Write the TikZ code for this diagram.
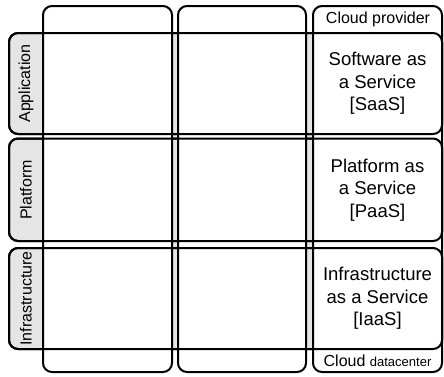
\documentclass[tikz,border=0pt]{standalone}
\usepackage{fontspec}
\setmainfont{Liberation Sans}
\begin{document}
\begin{tikzpicture}[x=1pt,y=-1pt,
  frame/.style={line width=2pt, rounded corners=9pt},
  tabfill/.style={fill=gray!20},
  bigtext/.style={align=center, font=\fontsize{18.5}{22.5}\selectfont, inner sep=0pt},
  smalltext/.style={font=\fontsize{16}{18}\selectfont, inner sep=0pt},
  tablabel/.style={rotate=90, font=\fontsize{16}{18}\selectfont, inner sep=0pt}]
  \useasboundingbox (0,0) rectangle (444,376);
  % shading behind the grid between the columns
  \fill[gray!20] (43,33) rectangle (442,349);
  % layer bands, filled (the tab part stays grey)
  \foreach \t/\b in {33/134, 138.5/241, 248/349}
    \draw[frame, tabfill] (9,\t) rectangle (442,\b);
  % the three columns
  \foreach \l/\r in {43/172, 178/306, 313/442}
    \draw[frame, fill=white] (\l,6) rectangle (\r,372);
  % band outlines again on top of the columns
  \foreach \t/\b in {33/134, 138.5/241, 248/349}
    \draw[frame] (9,\t) rectangle (442,\b);
  % band tabs
  \node[tablabel] (app) at (26,83.5) {Application};
  \node[tablabel] (plat) at (26,190) {Platform};
  \node[tablabel] (infra) at (26,298.5) {Infrastructure};
  % cloud column texts
  \node[smalltext] (prov) at (378,19.5) {Cloud provider};
  \node[smalltext] (dc) at (377.5,361) {Cloud {\fontsize{13}{15}\selectfont datacenter}};
  \node[bigtext] (saas) at (377.5,83.5) {Software as\\a Service\\{[SaaS]}};
  \node[bigtext] (paas) at (377.5,190) {Platform as\\a Service\\{[PaaS]}};
  \node[bigtext] (iaas) at (377.5,298.5) {Infrastructure\\as a Service\\{[IaaS]}};
\end{tikzpicture}
\end{document}
